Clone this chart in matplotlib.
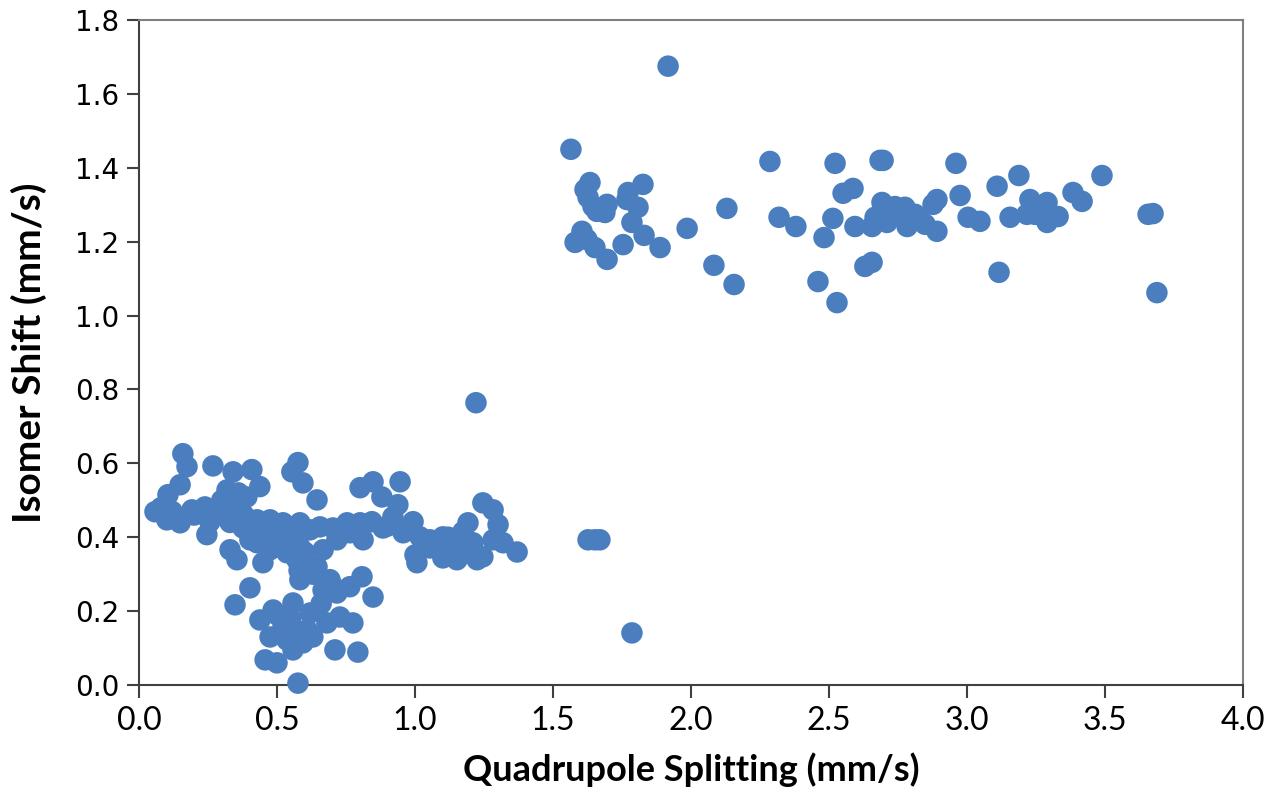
import matplotlib
matplotlib.use('Agg')
import matplotlib.pyplot as plt

# Quadrupole splitting (mm/s) and isomer shift (mm/s)
# high-spin cluster (upper right)
qs_high = [1.917, 1.565, 1.634, 1.616, 1.627, 1.645, 1.659, 1.696, 1.688, 1.772,
           1.768, 1.826, 1.808, 1.786, 1.830, 1.888, 1.754, 1.605, 1.580, 1.623,
           1.652, 1.696, 1.986, 2.130, 2.083, 2.156, 2.286, 2.522, 2.685, 2.696,
           2.960, 3.188, 3.489, 3.109, 2.587, 2.551, 3.384, 3.417, 2.891, 2.877,
           2.975, 2.692, 2.739, 2.775, 3.228, 3.290, 2.319, 2.380, 2.514, 2.482,
           2.594, 2.656, 2.710, 2.783, 2.830, 2.891, 3.004, 3.047, 3.156, 3.217,
           3.290, 3.330, 3.656, 3.674, 2.630, 2.656, 2.460, 2.529, 3.116, 3.688,
           2.667, 2.757, 2.812, 2.848, 3.246, 3.268]
is_high = [1.675, 1.450, 1.360, 1.341, 1.320, 1.295, 1.282, 1.301, 1.279, 1.333,
           1.314, 1.355, 1.293, 1.252, 1.217, 1.184, 1.192, 1.228, 1.198, 1.206,
           1.184, 1.152, 1.236, 1.290, 1.136, 1.084, 1.417, 1.412, 1.420, 1.420,
           1.412, 1.379, 1.379, 1.350, 1.344, 1.331, 1.333, 1.309, 1.314, 1.301,
           1.325, 1.306, 1.295, 1.293, 1.314, 1.306, 1.266, 1.241, 1.263, 1.211,
           1.241, 1.241, 1.252, 1.241, 1.260, 1.228, 1.266, 1.255, 1.266, 1.274,
           1.252, 1.268, 1.274, 1.276, 1.133, 1.144, 1.092, 1.035, 1.117, 1.062,
           1.266, 1.274, 1.274, 1.247, 1.274, 1.287]

# lower-left cluster
qs_low = [0.159, 0.174, 0.268, 0.341, 0.409, 0.149, 0.105, 0.058, 0.101, 0.149,
          0.192, 0.239, 0.257, 0.246, 0.319, 0.341, 0.391, 0.330, 0.402, 0.438,
          0.554, 0.576, 0.594, 0.645, 0.801, 0.848, 0.428, 0.475, 0.522, 0.583,
          0.656, 0.703, 0.754, 0.801, 0.844, 0.812, 0.428, 0.475, 0.583, 0.667,
          0.717, 0.764, 0.355, 0.449, 0.402, 0.348, 0.536, 0.572, 0.583, 0.645,
          0.692, 0.667, 0.717, 0.764, 0.808, 0.848, 0.558, 0.486, 0.438, 0.522,
          0.620, 0.609, 0.681, 0.728, 0.775, 0.475, 0.536, 0.594, 0.630, 0.457,
          0.500, 0.558, 0.710, 0.793, 0.576, 0.946, 0.880, 0.938, 0.884, 0.957,
          0.993, 1.018, 1.007, 1.000, 1.054, 1.101, 1.127, 1.101, 1.152, 1.174,
          1.192, 1.210, 1.246, 1.225, 1.246, 1.283, 1.301, 1.283, 1.319, 1.370,
          1.221, 1.627, 1.652, 1.670, 1.786, 0.366, 0.493, 0.547, 0.920, 1.054,
          1.163, 0.402, 0.377, 0.300, 0.360, 0.380, 0.330, 0.290, 0.450, 0.500,
          0.550, 0.620, 0.600, 0.630, 0.580, 0.520, 0.550, 0.580, 0.500, 0.660,
          0.700, 0.120, 0.200, 0.080, 1.050, 1.120, 1.180, 0.900, 0.750]
is_low = [0.626, 0.591, 0.593, 0.577, 0.583, 0.542, 0.515, 0.469, 0.447, 0.439,
          0.474, 0.482, 0.442, 0.407, 0.528, 0.482, 0.509, 0.366, 0.439, 0.537,
          0.577, 0.602, 0.547, 0.501, 0.534, 0.550, 0.447, 0.447, 0.439, 0.439,
          0.428, 0.425, 0.439, 0.439, 0.442, 0.393, 0.385, 0.366, 0.374, 0.366,
          0.393, 0.412, 0.339, 0.331, 0.263, 0.217, 0.358, 0.339, 0.285, 0.320,
          0.285, 0.257, 0.249, 0.266, 0.293, 0.238, 0.222, 0.203, 0.176, 0.168,
          0.195, 0.149, 0.168, 0.184, 0.168, 0.130, 0.122, 0.114, 0.130, 0.068,
          0.060, 0.095, 0.095, 0.089, 0.005, 0.550, 0.509, 0.488, 0.425, 0.412,
          0.442, 0.401, 0.331, 0.352, 0.393, 0.401, 0.366, 0.344, 0.339, 0.415,
          0.439, 0.385, 0.347, 0.339, 0.493, 0.474, 0.434, 0.393, 0.385, 0.360,
          0.764, 0.393, 0.393, 0.393, 0.141, 0.447, 0.420, 0.398, 0.455, 0.371,
          0.379, 0.393, 0.425, 0.500, 0.520, 0.460, 0.440, 0.470, 0.420, 0.400,
          0.410, 0.420, 0.360, 0.300, 0.310, 0.150, 0.180, 0.130, 0.190, 0.220,
          0.270, 0.470, 0.460, 0.480, 0.380, 0.400, 0.360, 0.430, 0.420]

x_ticks = [0.0, 0.5, 1.0, 1.5, 2.0, 2.5, 3.0, 3.5, 4.0]
y_ticks = [0.0, 0.2, 0.4, 0.6, 0.8, 1.0, 1.2, 1.4, 1.6, 1.8]

fig = plt.figure(figsize=(12.68, 7.93), dpi=100)
ax = fig.add_axes([0.1096, 0.1362, 0.8707, 0.8386])

color = '#4a7ebf'
ax.scatter(qs_low + qs_high, is_low + is_high, s=240, color=color,
           edgecolors='none', clip_on=False, zorder=3)

ax.set_xlim(0, 4.0)
ax.set_ylim(0, 1.8)
ax.set_xticks(x_ticks)
ax.set_yticks(y_ticks)
ax.set_xticklabels([f'{v:.1f}' for v in x_ticks], fontsize=23, family='Lato')
ax.set_yticklabels([f'{v:.1f}' for v in y_ticks], fontsize=20, family='DejaVu Sans')
ax.tick_params(axis='both', direction='out', length=9, width=1.5, color='#404040')
ax.tick_params(axis='x', pad=6)
ax.tick_params(axis='y', pad=5)

for sp in ax.spines.values():
    sp.set_color('#7f7f7f')
    sp.set_linewidth(1.5)
ax.spines['bottom'].set_color('#404040')
ax.spines['left'].set_color('#404040')

ax.set_xlabel('Quadrupole Splitting (mm/s)', fontsize=26, fontweight='bold',
              family='Lato', labelpad=12)
ax.set_ylabel('Isomer Shift (mm/s)', fontsize=28, fontweight='bold',
              family='Lato', labelpad=20)

fig.savefig('out.png', dpi=100)
